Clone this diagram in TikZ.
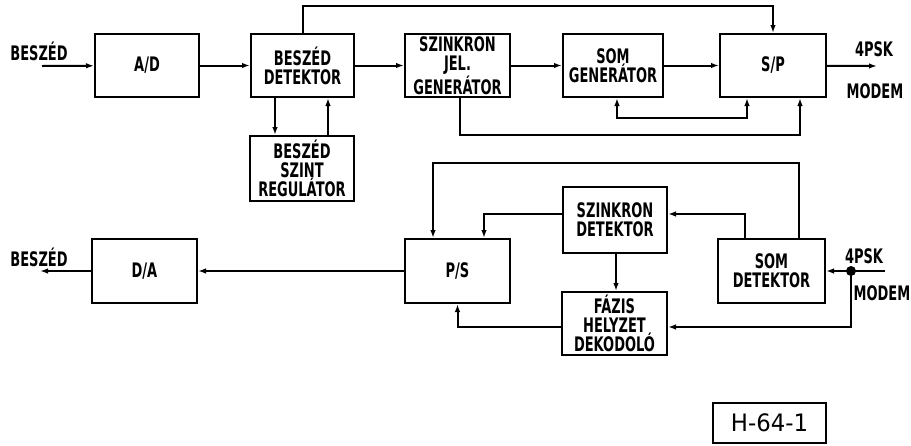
\documentclass[tikz,border=0pt]{standalone}
\usepackage{fontspec}
\setmainfont{DejaVu Sans}[FakeStretch=0.65]
\newfontfamily\jelfont{DejaVu Sans}[FakeStretch=0.95]
\usetikzlibrary{arrows.meta}

\begin{document}
\begin{tikzpicture}[x=1pt, y=-1pt,
    blokk/.style={draw, line width=2pt, align=center, inner sep=0pt,
        font=\bfseries\fontsize{20}{19}\selectfont},
    felirat/.style={font=\bfseries\fontsize{20}{19}\selectfont, inner sep=0pt},
    vonal/.style={line width=2pt},
    nyil/.style={line width=2pt, -{Latex[length=8pt,width=5.5pt]}},
    ketnyil/.style={line width=2pt, {Latex[length=8pt,width=5.5pt]}-{Latex[length=8pt,width=5.5pt]}}]
    \useasboundingbox (0,0) rectangle (911,445);
    % felso ag: adas
    \node[blokk, minimum width=104, minimum height=63] (ad) at (147,65.5) {A/D};
    \node[blokk, minimum width=103, minimum height=63] (bdet) at (302.5,65.5) {BESZÉD\\DETEKTOR};
    \node[blokk, minimum width=105, minimum height=63] (szgen) at (457.5,65.5) {SZINKRON\\JEL.\\GENERÁTOR};
    \node[blokk, minimum width=100, minimum height=63] (somgen) at (613,65.5) {SOM\\GENERÁTOR};
    \node[blokk, minimum width=106, minimum height=63] (sp) at (773,65.5) {S/P};
    \node[blokk, minimum width=104, minimum height=65] (reg) at (302,168.5) {BESZÉD\\SZINT\\REGULÁTOR};
    \coordinate (be1) at (42,66);
    \coordinate (ki1) at (877,66);
    \node[felirat] (beszed1) at (39,51) {BESZÉD};
    \node[felirat] (psk1) at (874,49) {4PSK};
    \node[felirat] (modem1) at (875,91) {MODEM};
    \draw[nyil] (be1) -- (ad);
    \draw[nyil] (ad) -- (bdet);
    \draw[nyil] (bdet) -- (szgen);
    \draw[nyil] (szgen) -- (somgen);
    \draw[nyil] (somgen) -- (sp);
    \draw[nyil] (sp) -- (ki1);
    \draw[nyil] (bdet.north) -- ++(0,-27) -| (sp.north);
    \draw[nyil] ([xshift=-27.5pt]bdet.south) -- ([xshift=-27.5pt]bdet.south |- reg.north);
    \draw[nyil] ([xshift=25.5pt]bdet.south |- reg.north) -- ([xshift=25.5pt]bdet.south);
    \draw[nyil] ([xshift=2.5pt]szgen.south) |- (460,135) -| ([xshift=27pt]sp.south);
    \draw[ketnyil] ([xshift=-26pt]sp.south) |- (617,118) -- ([xshift=4pt]somgen.south);

    % also ag: vetel
    \node[blokk, minimum width=105, minimum height=64] (da) at (144.5,271) {D/A};
    \node[blokk, minimum width=105, minimum height=64] (ps) at (457.5,271) {P/S};
    \node[blokk, minimum width=104, minimum height=66] (szdet) at (615,220) {SZINKRON\\DETEKTOR};
    \node[blokk, minimum width=105, minimum height=63] (fazis) at (614.5,323.5) {FÁZIS\\HELYZET\\DEKODOLÓ};
    \node[blokk, minimum width=107, minimum height=64] (somdet) at (771.5,271) {SOM\\DETEKTOR};
    \coordinate (ki2) at (40,271);
    \coordinate (be2) at (885,271);
    \coordinate (pont) at (851,271);
    \node[felirat] (beszed2) at (39,257.5) {BESZÉD};
    \node[felirat] (psk2) at (864,256) {4PSK};
    \node[felirat] (modem2) at (882,293.5) {MODEM};
    \draw[nyil] (ps) -- (da);
    \draw[nyil] (da) -- (ki2);
    \draw[vonal] (be2) -- (pont);
    \draw[nyil] (pont) -- (somdet);
    \draw[nyil] (pont) |- (fazis.east |- 0,327);
    \fill (pont) circle (5pt);
    \draw[nyil] ([xshift=27.5pt]somdet.north) |- (433,163) -- ([xshift=-24.5pt]ps.north);
    \draw[nyil] ([xshift=-26.5pt]somdet.north) |- (szdet.east |- 0,214);
    \draw[nyil] (szdet.west |- 0,214) -| ([xshift=26.5pt]ps.north);
    \draw[nyil] ([xshift=1pt]szdet.south) -- ([xshift=1pt]szdet.south |- fazis.north);
    \draw[nyil] (fazis.west |- 0,327) -| (ps.south);

    % rajzszam
    \node[draw, line width=1.5pt, minimum width=113, minimum height=40,
        font=\jelfont\fontsize{24}{26}\selectfont] (rajzszam) at (769.5,423) {H-64-1};
\end{tikzpicture}
\end{document}
